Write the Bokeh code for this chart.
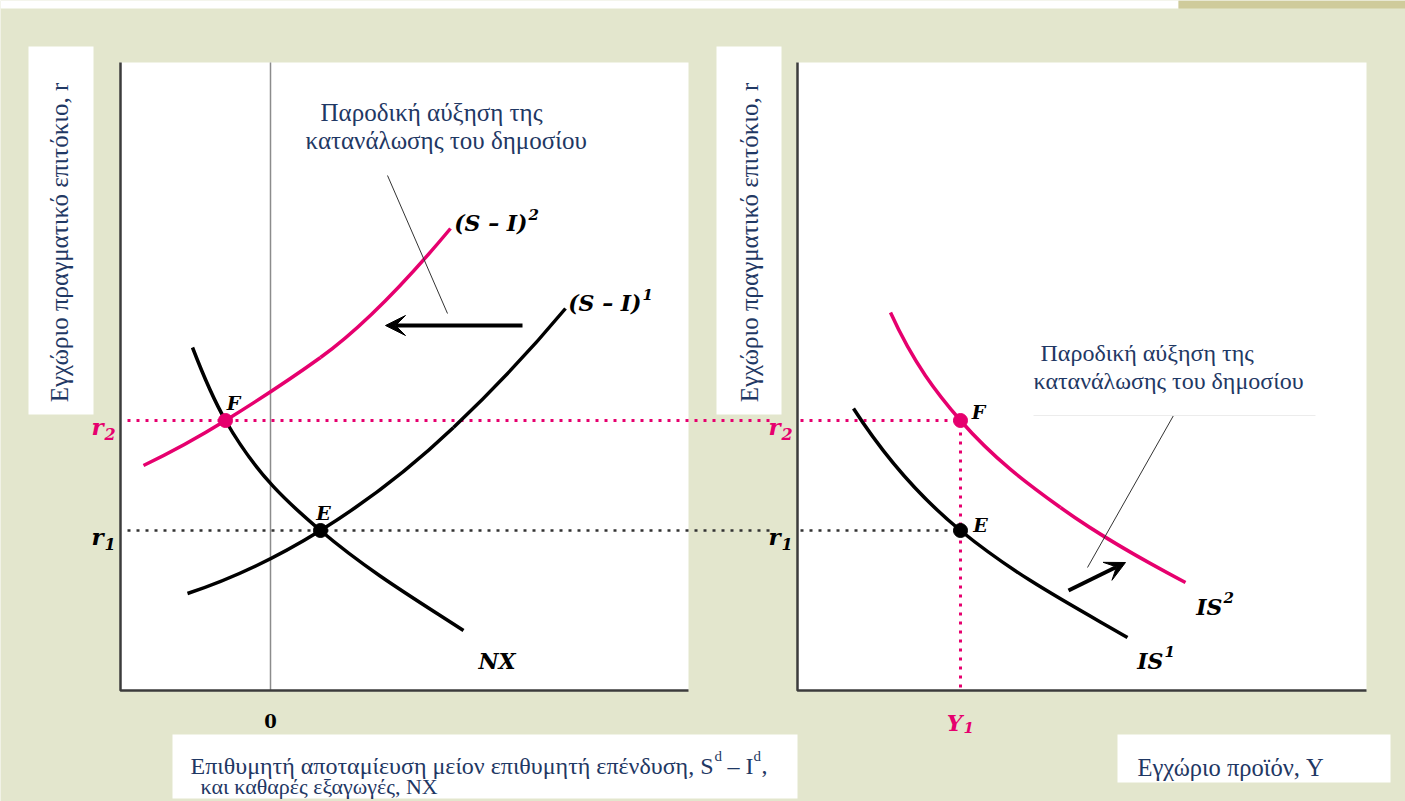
import math
from bokeh.plotting import figure
from bokeh.models import Range1d, Arrow, VeeHead
from bokeh.core.properties import value
from bokeh.embed import file_html
from bokeh.resources import INLINE

# ---------------------------------------------------------------------------
# Data
# Left panel: desired saving minus desired investment / net exports (x) vs r
# Right panel: domestic output Y (x) vs r
# Each curve is given by anchor points and its slope dr/dx at those points.
# ---------------------------------------------------------------------------
R1, R2 = 1.60, 2.70          # real interest rate before / after the shock
E_X, F_X = 0.50, -0.45       # S-I = NX at equilibrium E and F
Y1 = 1.63                    # output level (unchanged)

nx_x = [-0.78, -0.45, 0.50, 1.93]
nx_r = [3.43, 2.70, 1.60, 0.60]
nx_slope = [-2.6, -1.75, -0.85, -0.65]

si1_x = [-0.83, 0.50, 1.83, 2.95]
si1_r = [0.97, 1.60, 2.63, 3.82]
si1_slope = [0.33, 0.62, 0.95, 1.20]

si2_x = [-1.27, -0.45, 0.50, 1.80]
si2_r = [2.25, 2.70, 3.33, 4.62]
si2_slope = [0.48, 0.62, 0.72, 1.20]

is1_y = [0.56, 1.63, 3.30]
is1_r = [2.82, 1.60, 0.53]
is1_slope = [-1.55, -0.82, -0.58]

is2_y = [0.93, 1.63, 2.63, 3.88]
is2_r = [3.78, 2.70, 1.83, 1.08]
is2_slope = [-2.2, -1.15, -0.72, -0.53]

# shift arrows and annotation pointers (start -> end)
shift_left = [(2.52, 3.65), (1.15, 3.65)]
shift_right = [(2.71, 1.00), (3.28, 1.28)]
pointer_left = [(1.17, 5.15), (1.77, 3.77)]
pointer_right = [(3.76, 2.75), (2.90, 1.23)]

r_tick_base = ["r", "r"]
r_tick_sub = ["1", "2"]

ylabel = "Εγχώριο πραγματικό επιτόκιο, r"
xlabel_left_1 = "Επιθυμητή αποταμίευση μείον επιθυμητή επένδυση, S"
xlabel_left_2 = "και καθαρές εξαγωγές, NX"
xlabel_right = "Εγχώριο προϊόν, Y"
note_1 = "Παροδική αύξηση της"
note_2 = "κατανάλωσης του δημοσίου"

# ---------------------------------------------------------------------------
# Styling / layout
# ---------------------------------------------------------------------------
BG = "#e3e6cd"
TAN = "#cfcb9b"
PINK = "#e6006e"
NAVY = "#1f3864"
AXIS = "#3c3c3c"
SERIF = value("Liberation Serif")
MATH = value("DejaVu Serif")

W, H = 1405, 801
LEFT_X = (-1.50, 4.18)
RIGHT_Y = (0.0, 5.69)
R_TOP = 6.28
U = 0.01  # one screen pixel in data units

p = figure(width=W, height=H,
           x_range=Range1d(-2.70, 11.35), y_range=Range1d(-1.11, 6.90),
           output_backend="svg", toolbar_location=None, min_border=0,
           x_axis_location=None, y_axis_location=None,
           background_fill_color=BG, border_fill_color=BG,
           outline_line_color=None)
p.grid.visible = False
p.extra_x_ranges = {"out": Range1d(-7.97, 6.08)}


def ux(px):
    return px * U - 2.70


def uy(py):
    return 6.90 - py * U


def curve(xs, rs, ms, color, rng="default"):
    # smooth curve through the anchors with the given slopes (cubic pieces)
    x0, x1 = xs[:-1], xs[1:]
    r0, r1 = rs[:-1], rs[1:]
    m0, m1 = ms[:-1], ms[1:]
    d = [(b - a) / 3 for a, b in zip(x0, x1)]
    p.bezier(x0=x0, y0=r0, x1=x1, y1=r1,
             cx0=[a + k for a, k in zip(x0, d)],
             cy0=[r + m * k for r, m, k in zip(r0, m0, d)],
             cx1=[b - k for b, k in zip(x1, d)],
             cy1=[r - m * k for r, m, k in zip(r1, m1, d)],
             line_color=color, line_width=3.5, x_range_name=rng)


# page strip at the top
p.quad(left=[ux(0)], right=[ux(1178)], bottom=[uy(8)], top=[uy(0)],
       fill_color="white", line_color=None)
p.quad(left=[ux(1178)], right=[ux(W)], bottom=[uy(8)], top=[uy(0)],
       fill_color=TAN, line_color=None)

# white plotting panels
p.quad(left=[LEFT_X[0]], right=[LEFT_X[1]], bottom=[0], top=[R_TOP],
       fill_color="white", line_color=None)
p.quad(left=[RIGHT_Y[0]], right=[RIGHT_Y[1]], bottom=[0], top=[R_TOP],
       fill_color="white", line_color=None, x_range_name="out")

# caption boxes
for l, r, t, b in [(28, 93, 46, 414), (716, 781, 46, 414),
                   (172, 797, 734, 798), (1117, 1390, 734, 782)]:
    p.quad(left=[ux(l)], right=[ux(r)], top=[uy(t)], bottom=[uy(b)],
           fill_color="white", line_color=None)

# zero line of the left panel
p.line([0, 0], [0, R_TOP], line_color="#8c8c8c", line_width=1.5)

# dotted guides
p.line([LEFT_X[0] + 0.07, ux(770)], [R2, R2], line_color=PINK, line_width=3,
       line_dash="3 6")
p.line([LEFT_X[0] + 0.07, ux(770)], [R1, R1], line_color="#333333", line_width=2.5,
       line_dash="3 6")
p.line([RIGHT_Y[0] + 0.03, Y1], [R2, R2], line_color=PINK, line_width=3,
       line_dash="3 6", x_range_name="out")
p.line([RIGHT_Y[0] + 0.03, Y1], [R1, R1], line_color="#333333", line_width=2.5,
       line_dash="3 6", x_range_name="out")
p.line([Y1, Y1], [0.03, R2], line_color=PINK, line_width=3,
       line_dash="3 6", x_range_name="out")

# curves
curve(nx_x, nx_r, nx_slope, "black")
curve(si1_x, si1_r, si1_slope, "black")
curve(si2_x, si2_r, si2_slope, PINK)
curve(is1_y, is1_r, is1_slope, "black", rng="out")
curve(is2_y, is2_r, is2_slope, PINK, rng="out")

# axes of both panels
p.line([LEFT_X[0], LEFT_X[0], LEFT_X[1]], [R_TOP, 0, 0],
       line_color=AXIS, line_width=2.5)
p.line([RIGHT_Y[0], RIGHT_Y[0], RIGHT_Y[1]], [R_TOP, 0, 0],
       line_color=AXIS, line_width=2.5, x_range_name="out")

# equilibrium points
p.scatter([F_X], [R2], size=14, color=PINK)
p.scatter([E_X], [R1], size=14, color="black")
p.scatter([Y1], [R2], size=14, color=PINK, x_range_name="out")
p.scatter([Y1], [R1], size=14, color="black", x_range_name="out")

# annotation pointers
p.line([pointer_left[0][0], pointer_left[1][0]], [pointer_left[0][1], pointer_left[1][1]],
       line_color="#333333", line_width=1)
p.line([pointer_right[0][0], pointer_right[1][0]], [pointer_right[0][1], pointer_right[1][1]],
       line_color="#333333", line_width=1, x_range_name="out")

# shift arrows
p.add_layout(Arrow(end=VeeHead(size=20, fill_color="black", line_color="black"),
                   x_start=shift_left[0][0], y_start=shift_left[0][1],
                   x_end=shift_left[1][0], y_end=shift_left[1][1],
                   line_width=4, line_color="black"))
p.add_layout(Arrow(end=VeeHead(size=20, fill_color="black", line_color="black"),
                   x_start=shift_right[0][0], y_start=shift_right[0][1],
                   x_end=shift_right[1][0], y_end=shift_right[1][1],
                   line_width=4, line_color="black", x_range_name="out"))


def txt(x, y, s, size, color="black", font=MATH, style="bold italic",
        align="left", baseline="alphabetic", angle=0.0, rng="default"):
    p.text(x=[x], y=[y], text=[s], text_font=font, text_font_size=f"{size}px",
           text_font_style=style, text_color=color, text_align=align,
           text_baseline=baseline, angle=angle, x_range_name=rng)


def with_script(x, y, base, script, size, sub_size, dy, color="black", rng="default"):
    # base text ends at x; the small script starts right there
    txt(x, y, base, size, color=color, align="right", rng=rng)
    txt(x + U, y + dy, script, sub_size, color=color, align="left", rng=rng)


# r tick labels on both panels
for lvl, base, sub, col in [(R1, r_tick_base[0], r_tick_sub[0], "black"),
                            (R2, r_tick_base[1], r_tick_sub[1], PINK)]:
    with_script(LEFT_X[0] - 17 * U, lvl - 6 * U, base, sub, 23, 16, -7 * U, color=col)
    with_script(RIGHT_Y[0] - 17 * U, lvl - 6 * U, base, sub, 23, 16, -7 * U,
                color=col, rng="out")

# x tick labels
txt(0, -30 * U, "0", 18, style="bold", align="center")
with_script(Y1 + 2 * U, -32 * U, "Y", "1", 22, 15, -5 * U, color=PINK, rng="out")

# point labels
txt(F_X + 8 * U, R2 + 18 * U, "F", 19, align="center")
txt(E_X + 3 * U, R1 + 18 * U, "E", 19, align="center")
txt(Y1 + 18 * U, R2 + 9 * U, "F", 19, align="center", rng="out")
txt(Y1 + 20 * U, R1 + 6 * U, "E", 19, align="center", rng="out")

# curve labels
txt(nx_x[-1] + 15 * U, nx_r[-1] - 30 * U, "NX", 22)
with_script(si2_x[-1] + 77 * U, si2_r[-1] + 6 * U, "(S – I)", "2", 22, 15, 8 * U)
with_script(si1_x[-1] + 76 * U, si1_r[-1] + 6 * U, "(S – I)", "1", 22, 15, 8 * U)
with_script(is2_y[-1] + 37 * U, is2_r[-1] - 24 * U, "IS", "2", 22, 15, 9 * U, rng="out")
with_script(is1_y[-1] + 36 * U, is1_r[-1] - 23 * U, "IS", "1", 22, 15, 9 * U, rng="out")

# notes
txt(ux(320), uy(112), note_1, 25, color=NAVY, font=SERIF, style="normal")
txt(ux(305), uy(140), note_2, 25, color=NAVY, font=SERIF, style="normal")
txt(ux(1040), uy(352), note_1, 24, color=NAVY, font=SERIF, style="normal")
txt(ux(1033), uy(380), note_2, 24, color=NAVY, font=SERIF, style="normal")
p.line([ux(1033), ux(1315)], [uy(415), uy(415)], line_color="#ececec", line_width=1)

# axis captions
txt(ux(59), uy(242), ylabel, 25, color=NAVY, font=SERIF, style="normal",
    align="center", angle=math.pi / 2)
txt(ux(749), uy(242), ylabel, 25, color=NAVY, font=SERIF, style="normal",
    align="center", angle=math.pi / 2)

x_s = ux(713)
txt(x_s, uy(765), xlabel_left_1, 24, color=NAVY, font=SERIF, style="normal", align="right")
txt(x_s + U, uy(755), "d", 15, color=NAVY, font=SERIF, style="normal")
txt(x_s + 14 * U, uy(765), "– I", 24, color=NAVY, font=SERIF, style="normal")
txt(x_s + 40 * U, uy(755), "d", 15, color=NAVY, font=SERIF, style="normal")
txt(x_s + 48 * U, uy(765), ",", 24, color=NAVY, font=SERIF, style="normal")
txt(ux(200), uy(786), xlabel_left_2, 22, color=NAVY, font=SERIF, style="normal")
txt(ux(1137), uy(767), xlabel_right, 24.5, color=NAVY, font=SERIF, style="normal")

with open("out.html", "w") as f:
    f.write(file_html(p, INLINE, title="Παροδική αύξηση της κατανάλωσης του δημοσίου"))
